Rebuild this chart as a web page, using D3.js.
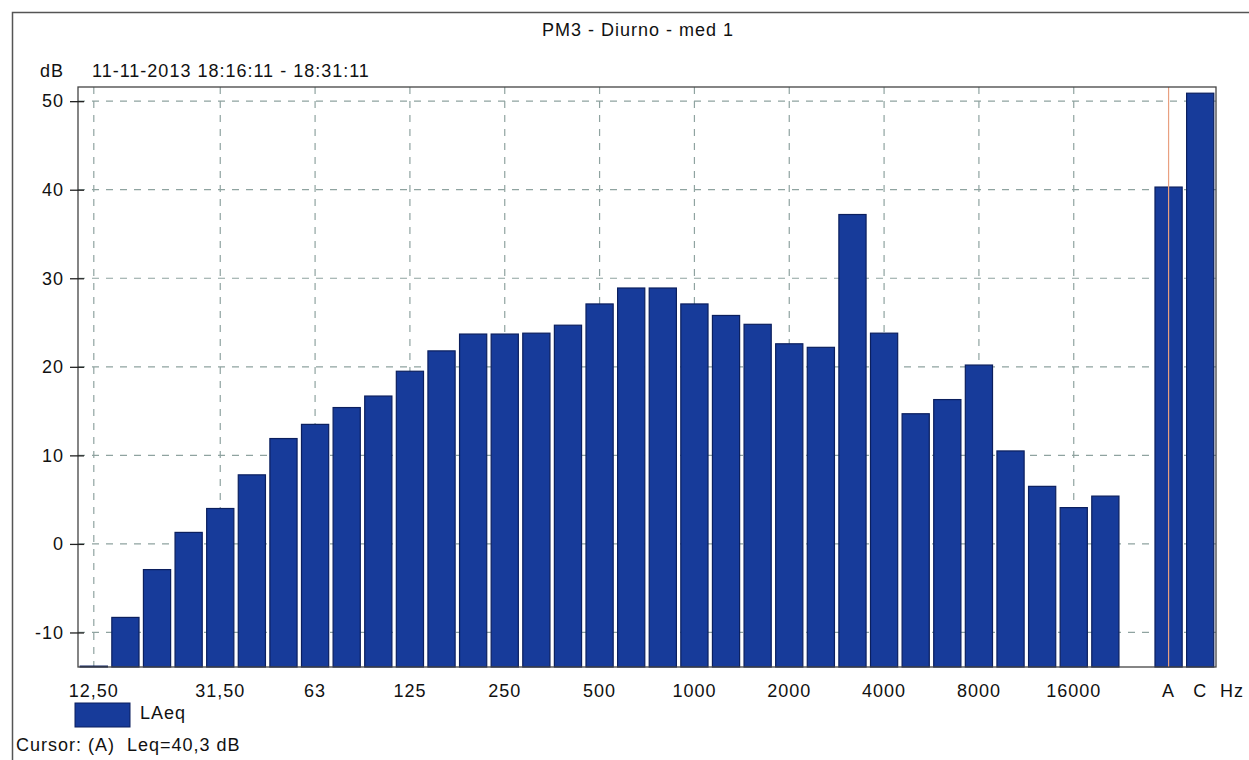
<!DOCTYPE html>
<html>
<head>
<meta charset="utf-8">
<script src="https://cdn.jsdelivr.net/npm/d3@7"></script>
<style>
  body { margin: 0; background: #fff; }
  svg text { font-family: "Liberation Sans", Arial, sans-serif; fill: #111; letter-spacing: 1px; white-space: pre; }
</style>
</head>
<body>
<div id="chart"></div>
<script>
// bandes 1/3 d'octave (Hz) et valeurs LAeq (dB)
const bandes = ["12,50", "16", "20", "25", "31,50", "40", "50", "63", "80", "100", "125", "160",
  "200", "250", "315", "400", "500", "630", "800", "1000", "1250", "1600", "2000", "2500",
  "3150", "4000", "5000", "6300", "8000", "10000", "12500", "16000", "20000"];
const laeq = [-13.8, -8.3, -2.9, 1.3, 4.0, 7.8, 11.9, 13.5, 15.4, 16.7, 19.5, 21.8,
  23.7, 23.7, 23.8, 24.7, 27.1, 28.9, 28.9, 27.1, 25.8, 24.8, 22.6, 22.2,
  37.2, 23.8, 14.7, 16.3, 20.2, 10.5, 6.5, 4.1, 5.4];
// totaux ponderes
const totaux = ["A", "C"];
const valeursTotaux = [40.3, 50.9];
// etiquettes de l'axe X
const etiquettesX = ["12,50", "31,50", "63", "125", "250", "500", "1000", "2000", "4000", "8000", "16000", "A", "C"];
const ticksY = [-10, 0, 10, 20, 30, 40, 50];

const W = 1249, H = 760;
const plot = { left: 78, right: 1216, top: 87, bottom: 667 };
const taille = 18;

const svg = d3.select("#chart").append("svg")
    .attr("width", W)
    .attr("height", H);

// cadre exterieur
svg.append("path")
    .attr("d", "M12.5 760 V12.5 H1249")
    .attr("fill", "none")
    .attr("stroke", "#555")
    .attr("stroke-width", 1.5);

svg.append("text")
    .attr("x", 638).attr("y", 36)
    .attr("text-anchor", "middle")
    .attr("font-size", taille)
    .text("PM3 - Diurno - med 1");

svg.append("text").attr("x", 40).attr("y", 77).attr("font-size", taille).text("dB");
svg.append("text").attr("x", 92).attr("y", 77).attr("font-size", taille).text("11-11-2013 18:16:11 - 18:31:11");

// echelles
const domaineX = bandes.concat([" "], totaux);
const x = d3.scaleBand()
    .domain(domaineX)
    .range([plot.left, plot.right])
    .paddingInner(0.14)
    .paddingOuter(0.07);

const y = d3.scaleLinear()
    .domain([-13.9, 51.6])
    .range([plot.bottom, plot.top]);

const centre = d => x(d) + x.bandwidth() / 2;

// grille
const grille = svg.append("g")
    .attr("stroke", "#8fa3a0")
    .attr("stroke-width", 1.2)
    .attr("stroke-dasharray", "7,7");

grille.selectAll("line.h")
    .data(ticksY)
    .enter()
    .append("line")
    .attr("x1", plot.left).attr("x2", plot.right)
    .attr("y1", d => y(d)).attr("y2", d => y(d));

grille.selectAll("line.v")
    .data(etiquettesX.filter(d => bandes.includes(d)))
    .enter()
    .append("line")
    .attr("x1", d => centre(d)).attr("x2", d => centre(d))
    .attr("y1", plot.top).attr("y2", plot.bottom);

// barres
const couleur = "#173b9a";
svg.append("g").selectAll("rect")
    .data(bandes.map((b, i) => ({ b: b, v: laeq[i] })).concat(totaux.map((b, i) => ({ b: b, v: valeursTotaux[i] }))))
    .enter()
    .append("rect")
    .attr("x", d => x(d.b))
    .attr("width", x.bandwidth())
    .attr("y", d => y(d.v))
    .attr("height", d => y.range()[0] - y(d.v))
    .attr("fill", couleur)
    .attr("stroke", "#0b1f5e")
    .attr("stroke-width", 1.2);

// curseur sur A
svg.append("line")
    .attr("x1", centre("A")).attr("x2", centre("A"))
    .attr("y1", plot.top).attr("y2", plot.bottom)
    .attr("stroke", "#e8a080")
    .attr("stroke-width", 1.2);

// cadre du graphique
svg.append("rect")
    .attr("x", plot.left).attr("y", plot.top)
    .attr("width", plot.right - plot.left)
    .attr("height", plot.bottom - plot.top)
    .attr("fill", "none")
    .attr("stroke", "#444")
    .attr("stroke-width", 1.3);

// axe Y
const axeY = d3.axisLeft(y).tickValues(ticksY).tickSize(8).tickPadding(6).tickFormat(d => String(d));
const gY = svg.append("g")
    .attr("transform", "translate(" + (plot.left + 6) + ",0)")
    .call(axeY);
gY.select(".domain").remove();
gY.selectAll("line").attr("stroke", "#222").attr("stroke-width", 1.3).attr("x2", -14);
gY.selectAll("text").attr("font-size", taille).attr("x", -20)
    .style("font-family", "Liberation Sans, Arial, sans-serif");

// axe X
const axeX = d3.axisBottom(x).tickValues(etiquettesX).tickSize(0).tickPadding(17);
const gX = svg.append("g")
    .attr("transform", "translate(0," + plot.bottom + ")")
    .call(axeX);
gX.select(".domain").remove();
gX.selectAll("text").attr("font-size", taille)
    .style("font-family", "Liberation Sans, Arial, sans-serif");

svg.append("text").attr("x", 1232).attr("y", 697).attr("text-anchor", "middle").attr("font-size", taille).text("Hz");

// legende
svg.append("rect")
    .attr("x", 75).attr("y", 703)
    .attr("width", 55).attr("height", 24)
    .attr("fill", couleur)
    .attr("stroke", "#0b1f5e");
svg.append("text").attr("x", 140).attr("y", 719).attr("font-size", taille).text("LAeq");
svg.append("text").attr("x", 16).attr("y", 751).attr("font-size", taille).text("Cursor: (A)  Leq=40,3 dB");
</script>
</body>
</html>
